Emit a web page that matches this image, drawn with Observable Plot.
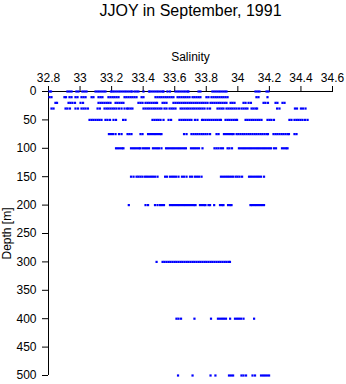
<!DOCTYPE html>
<html>
<head>
<meta charset="utf-8">
<script src="https://cdn.jsdelivr.net/npm/d3@7"></script>
<script src="https://cdn.jsdelivr.net/npm/@observablehq/plot@0.6"></script>
<style>
  html, body { margin: 0; padding: 0; background: #fff; }
  #chart svg { display: block; font-family: "Liberation Sans", Arial, Helvetica, sans-serif; }
</style>
</head>
<body>
<div id="chart"></div>
<script>
// JJOY cruise, September 1991: salinity at standard sampling depths, one value per station.
const title = "JJOY in September, 1991";
const xLabel = "Salinity";
const yLabel = "Depth [m]";

const xTicks = [32.8, 33, 33.2, 33.4, 33.6, 33.8, 34, 34.2, 34.4, 34.6];
const xTickLabels = ["32.8", "33", "33.2", "33.4", "33.6", "33.8", "34", "34.2", "34.4", "34.6"];
const yTicks = [0, 50, 100, 150, 200, 250, 300, 350, 400, 450, 500];

const depths = [0, 10, 20, 30, 50, 75, 100, 150, 200, 300, 400, 500];

const s0 = [32.806, 32.816, 32.920, 32.933, 32.946, 32.977, 32.990, 33.015, 33.028, 33.041,
  33.098, 33.111, 33.123, 33.136, 33.149, 33.161, 33.196, 33.206, 33.218, 33.231, 33.244,
  33.256, 33.269, 33.282, 33.294, 33.307, 33.320, 33.329, 33.345, 33.358, 33.370, 33.402,
  33.437, 33.446, 33.459, 33.472, 33.485, 33.497, 33.510, 33.523, 33.529, 33.554, 33.570,
  33.605, 33.618, 33.630, 33.643, 33.656, 33.668, 33.681, 33.687, 33.751, 33.763, 33.839,
  33.852, 33.865, 33.878, 33.890, 33.903, 33.916, 33.928, 34.112, 34.125, 34.137, 34.182, 34.194];

const s10 = [32.806, 32.819, 32.901, 32.911, 32.933, 32.946, 32.971, 32.984, 33.009, 33.022,
  33.035, 33.073, 33.085, 33.117, 33.130, 33.142, 33.180, 33.193, 33.206, 33.218, 33.231,
  33.244, 33.282, 33.294, 33.307, 33.320, 33.332, 33.345, 33.358, 33.390, 33.402, 33.478,
  33.491, 33.504, 33.516, 33.529, 33.542, 33.554, 33.567, 33.580, 33.592, 33.618, 33.630,
  33.643, 33.656, 33.668, 33.681, 33.694, 33.713, 33.725, 33.738, 33.751, 33.763, 33.801,
  33.814, 33.833, 33.846, 33.859, 33.871, 33.884, 33.897, 33.909, 33.922, 33.935, 34.118,
  34.131, 34.188];

const s20 = [32.844, 32.854, 32.927, 32.939, 32.952, 32.968, 33.003, 33.019, 33.117, 33.130,
  33.142, 33.155, 33.168, 33.180, 33.193, 33.225, 33.237, 33.250, 33.263, 33.275, 33.370,
  33.383, 33.396, 33.415, 33.428, 33.440, 33.453, 33.466, 33.478, 33.488, 33.523, 33.535,
  33.548, 33.592, 33.605, 33.618, 33.630, 33.643, 33.656, 33.668, 33.681, 33.694, 33.706,
  33.719, 33.732, 33.744, 33.757, 33.770, 33.782, 33.795, 33.808, 33.827, 33.839, 33.852,
  33.865, 33.878, 33.890, 33.903, 33.916, 33.928, 33.954, 33.966, 33.979, 34.036, 34.049,
  34.068, 34.083, 34.163, 34.175, 34.191, 34.239, 34.251, 34.283, 34.296];

const s30 = [32.819, 32.832, 32.908, 32.920, 32.936, 32.971, 32.987, 33.009, 33.022, 33.035,
  33.050, 33.111, 33.126, 33.155, 33.168, 33.180, 33.193, 33.206, 33.218, 33.231, 33.247,
  33.263, 33.282, 33.298, 33.307, 33.320, 33.332, 33.402, 33.415, 33.428, 33.440, 33.453,
  33.466, 33.478, 33.491, 33.504, 33.516, 33.535, 33.548, 33.567, 33.580, 33.592, 33.605,
  33.637, 33.649, 33.662, 33.675, 33.687, 33.700, 33.713, 33.725, 33.738, 33.751, 33.763,
  33.776, 33.789, 33.808, 33.824, 33.871, 33.884, 33.897, 33.909, 33.928, 33.941, 33.954,
  33.966, 33.979, 33.992, 34.007, 34.023, 34.036, 34.049, 34.061, 34.087, 34.099, 34.112,
  34.122, 34.249, 34.264, 34.362, 34.375, 34.400, 34.413, 34.429];

const s50 = [33.060, 33.073, 33.085, 33.098, 33.111, 33.123, 33.136, 33.161, 33.174, 33.190,
  33.212, 33.228, 33.273, 33.288, 33.459, 33.472, 33.485, 33.497, 33.510, 33.529, 33.561,
  33.577, 33.630, 33.643, 33.656, 33.668, 33.681, 33.694, 33.706, 33.728, 33.744, 33.773,
  33.782, 33.795, 33.808, 33.820, 33.833, 33.846, 33.859, 33.871, 33.884, 33.893, 33.922,
  33.935, 33.947, 33.960, 33.973, 33.985, 33.995, 34.049, 34.061, 34.074, 34.087, 34.099,
  34.112, 34.125, 34.137, 34.150, 34.188, 34.201, 34.213, 34.229, 34.327, 34.340, 34.359,
  34.372, 34.384, 34.397, 34.410, 34.426, 34.442];

const s75 = [33.183, 33.196, 33.209, 33.225, 33.247, 33.263, 33.301, 33.313, 33.326, 33.383,
  33.396, 33.431, 33.443, 33.456, 33.469, 33.481, 33.494, 33.507, 33.516, 33.659, 33.675,
  33.706, 33.719, 33.732, 33.744, 33.757, 33.770, 33.782, 33.795, 33.808, 33.824, 33.865,
  33.878, 33.912, 33.925, 33.938, 33.951, 33.963, 33.973, 33.992, 34.004, 34.017, 34.030,
  34.042, 34.055, 34.068, 34.080, 34.093, 34.106, 34.118, 34.131, 34.144, 34.156, 34.169,
  34.182, 34.191, 34.226, 34.239, 34.251, 34.264, 34.277, 34.289, 34.302, 34.315, 34.324,
  34.359, 34.372];

const s100 = [33.228, 33.240, 33.253, 33.266, 33.275, 33.323, 33.336, 33.348, 33.361, 33.374,
  33.383, 33.399, 33.412, 33.424, 33.437, 33.462, 33.475, 33.488, 33.500, 33.516, 33.545,
  33.557, 33.570, 33.583, 33.595, 33.608, 33.621, 33.633, 33.646, 33.659, 33.671, 33.703,
  33.716, 33.728, 33.741, 33.754, 33.776, 33.852, 33.865, 33.878, 33.893, 33.906, 33.935,
  33.947, 33.963, 34.007, 34.020, 34.033, 34.045, 34.058, 34.071, 34.083, 34.096, 34.109,
  34.122, 34.134, 34.147, 34.160, 34.172, 34.185, 34.198, 34.210, 34.229, 34.242, 34.280,
  34.293, 34.306, 34.315];

const s150 = [33.323, 33.339, 33.358, 33.370, 33.383, 33.396, 33.412, 33.424, 33.437, 33.450,
  33.462, 33.475, 33.491, 33.539, 33.551, 33.570, 33.583, 33.595, 33.608, 33.624, 33.646,
  33.659, 33.675, 33.697, 33.710, 33.728, 33.741, 33.754, 33.770, 33.893, 33.906, 33.919,
  33.932, 33.944, 33.957, 33.970, 33.986, 33.998, 34.011, 34.027, 34.071, 34.083, 34.096,
  34.109, 34.122, 34.134, 34.147, 34.166];

const s200 = [33.309, 33.415, 33.431, 33.475, 33.491, 33.507, 33.519, 33.532, 33.570, 33.583,
  33.595, 33.608, 33.621, 33.633, 33.646, 33.659, 33.671, 33.684, 33.697, 33.710, 33.722,
  33.732, 33.760, 33.773, 33.786, 33.795, 33.814, 33.824, 33.850, 33.887, 33.900, 33.909,
  33.938, 33.951, 33.960, 34.080, 34.090, 34.103, 34.115, 34.128, 34.141, 34.153, 34.166];

const s300 = [33.485, 33.523, 33.535, 33.548, 33.561, 33.573, 33.586, 33.599, 33.611, 33.624,
  33.637, 33.649, 33.662, 33.675, 33.687, 33.700, 33.713, 33.725, 33.738, 33.751, 33.763,
  33.776, 33.789, 33.801, 33.814, 33.827, 33.839, 33.852, 33.865, 33.878, 33.890, 33.903,
  33.916, 33.928, 33.941, 33.950];

const s400 = [33.611, 33.624, 33.640, 33.725, 33.830, 33.874, 33.887, 33.900, 33.912, 33.925,
  33.951, 33.982, 33.995, 34.007, 34.020, 34.036, 34.103];

const s500 = [33.621, 33.713, 33.827, 33.858, 33.944, 33.957, 33.970, 34.023, 34.036, 34.052,
  34.093, 34.109, 34.147, 34.160, 34.172, 34.185, 34.198];

const byDepth = [s0, s10, s20, s30, s50, s75, s100, s150, s200, s300, s400, s500];

// Long table: one row per (depth, salinity) sample.
const samples = depths.flatMap((depth, i) => byDepth[i].map(salinity => ({depth, salinity})));

const fontSize = 12;

const chart = Plot.plot({
  width: 346,
  height: 384,
  marginTop: 91,
  marginLeft: 48,
  marginRight: 14,
  marginBottom: 9,
  style: {fontSize: `${fontSize}px`, color: "#000", background: "#fff"},
  x: {domain: [32.8, 34.6]},
  y: {domain: [0, 500], reverse: true},
  marks: [
    Plot.axisX({
      anchor: "top",
      ticks: xTicks,
      tickFormat: (d, i) => xTickLabels[i],
      tickSize: 6,
      tickPadding: 4,
      label: null,
      fontSize
    }),
    Plot.axisY({
      anchor: "left",
      ticks: yTicks,
      tickSize: 6,
      tickPadding: 6,
      label: null,
      fontSize
    }),
    Plot.ruleY([0], {stroke: "#000", shapeRendering: "crispEdges"}),
    Plot.ruleX([32.8], {stroke: "#000", shapeRendering: "crispEdges"}),
    Plot.dot(samples, {
      x: "salinity",
      y: "depth",
      symbol: "square",
      r: 1.25,
      fill: "#0000ff",
      stroke: "none"
    }),
    Plot.text([title], {frameAnchor: "top", dy: -81, fontSize: 16, textAnchor: "middle", lineAnchor: "middle"}),
    Plot.text([xLabel], {frameAnchor: "top", dy: -34, fontSize, textAnchor: "middle", lineAnchor: "middle"}),
    Plot.text([yLabel], {frameAnchor: "left", dx: -41, rotate: -90, fontSize, textAnchor: "middle", lineAnchor: "middle"})
  ]
});

document.getElementById("chart").append(chart);
</script>
</body>
</html>
